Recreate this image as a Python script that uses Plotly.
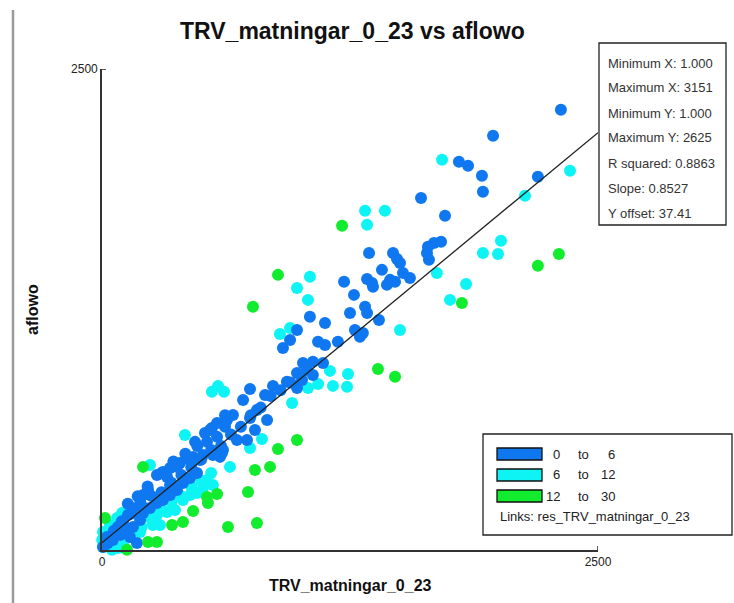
import plotly.graph_objects as go

# Observations grouped by class (TRV_matningar_0_23, aflowo)
blue_x = [2313, 1971, 1799, 1845, 1915, 1920, 2197, 1608, 1729, 1346, 1467, 1487, 1411, 1502, 1517,
          1643, 1673, 1709, 1638, 1648, 1336, 1361, 1452, 1477, 1552, 1220, 1436, 1366, 1270, 1326,
          1336, 1250, 1396, 1048, 1124, 983, 948, 912, 1089, 1124, 1189, 1275, 1300, 1315, 1013,
          1063, 1114, 983, 1033, 1063, 932, 862, 983, 1008, 746, 822, 711, 781, 746, 660, 630, 620,
          832, 771, 554, 519, 580, 469, 529, 680, 731, 459, 559, 605, 494, 444, 393, 378, 343, 307,
          277, 479, 444, 408, 378, 343, 307, 343, 328, 232, 207, 192, 277, 242, 207, 156, 131, 106,
          192, 156, 126, 91, 55, 30, 25, 141, 176, 5, 544, 509, 610, 595,
          100, 150, 200, 250, 300, 350, 400, 450, 500, 550, 600, 650, 700, 750, 800, 850, 900, 950,
          620, 580, 480, 420, 360, 300, 230, 180, 130, 80, 60, 40, 20]
blue_y = [2288, 2153, 2018, 1997, 1945, 1862, 1940, 1830, 1737, 1544, 1544, 1513, 1456, 1492, 1440,
          1576, 1596, 1602, 1544, 1508, 1409, 1388, 1404, 1394, 1414, 1394, 1378, 1368, 1326, 1264,
          1232, 1232, 1196, 1212, 1180, 1144, 1092, 1050, 1082, 1066, 1082, 1144, 1108, 1128, 972,
          978, 972, 920, 936, 910, 874, 853, 842, 884, 837, 806, 780, 728, 686, 702, 676, 640,
          676, 624, 634, 608, 588, 562, 562, 572, 572, 484, 494, 504, 468, 468, 452, 432, 426, 406,
          390, 400, 374, 348, 312, 286, 260, 338, 380, 312, 286, 260, 244, 218, 192, 218, 182, 146,
          156, 120, 94, 78, 52, 36, 68, 68, 36, 16, 624, 494, 520, 484,
          150, 190, 230, 280, 300, 350, 390, 430, 470, 520, 540, 600, 640, 700, 740, 800, 830, 870,
          700, 660, 540, 500, 460, 400, 330, 280, 240, 120, 100, 60, 30]

cyan_x = [1714, 2359, 2132, 1326, 1426, 1336, 2011, 1920, 1996, 1688, 1835, 1754, 1502, 1048, 983,
          1038, 897, 948, 1149, 1240, 1089, 1038, 1164, 1235, 958, 585, 554, 615, 418, 806, 746,
          242, 645, 559, 509, 479, 529, 444, 408, 368, 328, 277, 257, 292, 101, 76, 40, 192, 5, 1,
          5, 40, 91, 50, 81,
          300, 350, 400, 450, 500, 550, 200, 150, 250, 120, 60]
cyan_y = [2028, 1971, 1841, 1763, 1763, 1690, 1607, 1544, 1539, 1440, 1383, 1300, 1144, 1420, 1362,
          1300, 1123, 1154, 931, 915, 863, 842, 853, 848, 764, 853, 822, 822, 598, 577, 530,
          442, 432, 338, 322, 296, 364, 286, 260, 208, 198, 182, 130, 130, 192, 166, 130, 94, 94, 52,
          16, 16, 16, 1, 10,
          210, 250, 280, 330, 360, 400, 120, 100, 160, 60, 20]

green_x = [2303, 2197, 1210, 1814, 1477, 1391, 887, 761, 887, 983, 207, 847, 771, 736, 529, 534, 580,
           459, 408, 353, 635, 781, 232, 277, 126, 15]
green_y = [1539, 1477, 1685, 1284, 900, 941, 1430, 1264, 525, 572, 432, 432, 416, 302, 276, 244, 291,
           203, 146, 130, 120, 140, 42, 42, 1, 166]

# Fitted regression line
slope = 0.8527
offset = 37.41
fit_x = [0, 2500]

stats_lines = ["Minimum X: 1.000", "Maximum X: 3151", "Minimum Y: 1.000", "Maximum Y: 2625",
               "R squared: 0.8863", "Slope: 0.8527", "Y offset: 37.41"]

class_labels = [("0", "6"), ("6", "12"), ("12", "30")]
class_colors = ["#0F78F0", "#0EF4F4", "#12EC2E"]

W, H = 734, 603
L, R, T, B = 102, 598, 69, 550


def px(x):
    return (x - L) / (R - L)


def py(y):
    return (B - y) / (B - T)


fig = go.Figure()
for xs, ys, col in [(cyan_x, cyan_y, class_colors[1]),
                    (blue_x, blue_y, class_colors[0]),
                    (green_x, green_y, class_colors[2])]:
    fig.add_trace(go.Scatter(x=xs, y=ys, mode="markers", cliponaxis=False,
                             marker=dict(size=12, color=col, line=dict(width=0)),
                             showlegend=False, hoverinfo="skip"))

fig.add_trace(go.Scatter(x=fit_x, y=[offset + slope * v for v in fit_x], mode="lines",
                         line=dict(color="#222222", width=1.3), cliponaxis=False,
                         showlegend=False, hoverinfo="skip"))

font = "Liberation Sans, Arial, sans-serif"
axis_common = dict(showgrid=False, zeroline=False, showline=True, linecolor="#333333",
                   linewidth=1.6, ticks="", tickfont=dict(family=font, size=12, color="#222"))

fig.update_layout(
    width=W, height=H,
    margin=dict(l=L, r=W - R, t=T, b=H - B),
    plot_bgcolor="white", paper_bgcolor="white",
    xaxis=dict(range=[0, 2500], tickvals=[0, 2500], ticktext=["0", "2500"], **axis_common),
    yaxis=dict(range=[0, 2500], tickvals=[2500], ticktext=["2500"], **axis_common),
    showlegend=False,
)

shapes = []
# end caps on the axes
shapes.append(dict(type="line", xref="x", yref="y", x0=2500, x1=2500, ysizemode="pixel",
                   yanchor=0, y0=-4, y1=4, line=dict(color="#333", width=1.6)))
shapes.append(dict(type="line", xref="x", yref="y", y0=2500, y1=2500, xsizemode="pixel",
                   xanchor=0, x0=-4, x1=4, line=dict(color="#333", width=1.6)))
# window edge on the left
shapes.append(dict(type="line", xref="paper", yref="paper", x0=px(13), x1=px(13), y0=py(10),
                   y1=py(603), line=dict(color="#9a9a9a", width=2.5)))
# statistics box
shapes.append(dict(type="rect", xref="paper", yref="paper", x0=px(599), x1=px(726), y0=py(43),
                   y1=py(225), line=dict(color="#222", width=1.3), fillcolor="white", layer="above"))
# class legend box
shapes.append(dict(type="rect", xref="paper", yref="paper", x0=px(483), x1=px(732), y0=py(434),
                   y1=py(535), line=dict(color="#222", width=1.3), fillcolor="white", layer="above"))

annotations = []
annotations.append(dict(text="<b>TRV_matningar_0_23 vs aflowo</b>", x=px(352), y=py(31),
                        xref="paper", yref="paper", showarrow=False, xanchor="center",
                        yanchor="middle", font=dict(family=font, size=23, color="#111")))
annotations.append(dict(text="<b>TRV_matningar_0_23</b>", x=px(350), y=py(585), xref="paper",
                        yref="paper", showarrow=False, xanchor="center", yanchor="middle",
                        font=dict(family=font, size=16, color="#111")))
annotations.append(dict(text="<b>aflowo</b>", x=px(32), y=py(310), xref="paper", yref="paper",
                        showarrow=False, xanchor="center", yanchor="middle", textangle=-90,
                        font=dict(family=font, size=16, color="#111")))

for i, line in enumerate(stats_lines):
    annotations.append(dict(text=line, x=px(606), y=py(63 + 25 * i), xref="paper", yref="paper",
                            showarrow=False, xanchor="left", yanchor="middle",
                            font=dict(family=font, size=13, color="#333")))

for i, ((lo, hi), col) in enumerate(zip(class_labels, class_colors)):
    yc = 454 + 21 * i
    shapes.append(dict(type="rect", xref="paper", yref="paper", x0=px(497), x1=px(542),
                       y0=py(yc - 6), y1=py(yc + 6), fillcolor=col,
                       line=dict(color="#111", width=1.3), layer="above"))
    annotations.append(dict(text=lo, x=px(562), y=py(yc), xref="paper", yref="paper",
                            showarrow=False, xanchor="right", yanchor="middle",
                            font=dict(family=font, size=13, color="#222")))
    annotations.append(dict(text="to", x=px(583), y=py(yc), xref="paper", yref="paper",
                            showarrow=False, xanchor="center", yanchor="middle",
                            font=dict(family=font, size=13, color="#222")))
    annotations.append(dict(text=hi, x=px(617), y=py(yc), xref="paper", yref="paper",
                            showarrow=False, xanchor="right", yanchor="middle",
                            font=dict(family=font, size=13, color="#222")))

annotations.append(dict(text="Links: res_TRV_matningar_0_23", x=px(498), y=py(516), xref="paper",
                        yref="paper", showarrow=False, xanchor="left", yanchor="middle",
                        font=dict(family=font, size=13, color="#222")))

fig.update_layout(shapes=shapes, annotations=annotations)
fig.write_html("out.html")
